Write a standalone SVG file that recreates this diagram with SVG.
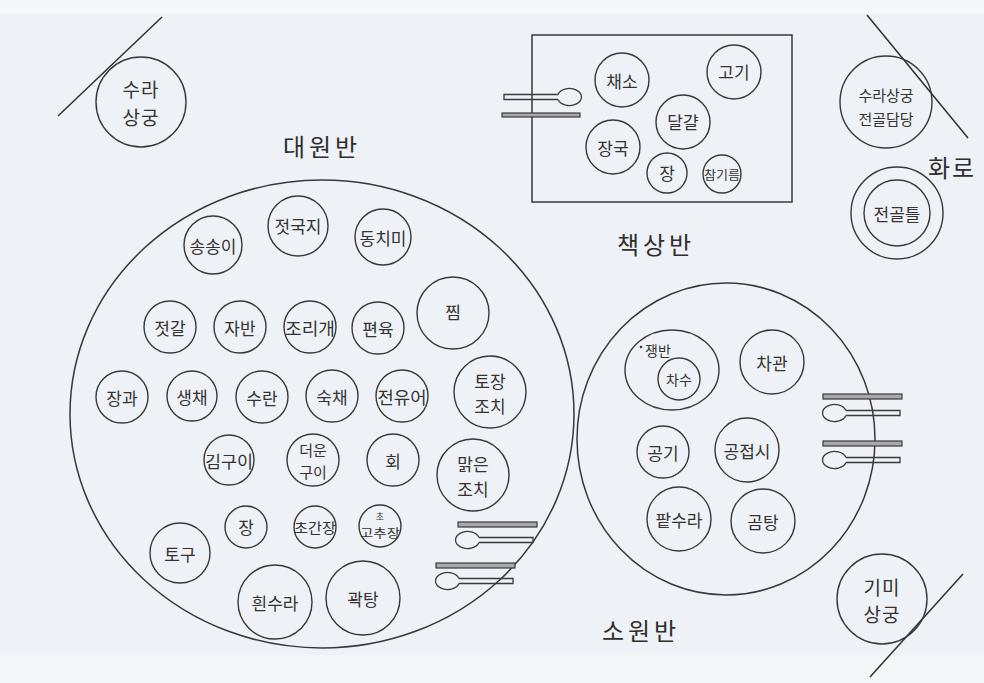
<svg xmlns="http://www.w3.org/2000/svg" width="984" height="683" viewBox="0 0 984 683">
<style>
.d{fill:none;stroke:#383838;stroke-width:1.4}
.big{fill:none;stroke:#383838;stroke-width:1.5}
.ln{stroke:#303030;stroke-width:1.5;fill:none}
.t{font-family:"Noto Sans CJK KR","Noto Sans",sans-serif;font-size:17px;fill:#333;text-anchor:middle;dominant-baseline:central}
.s{font-size:14px}
.xs{font-size:12px}
.lab{font-family:"Noto Sans CJK KR","Noto Sans",sans-serif;font-size:24px;fill:#2e2e2e;text-anchor:middle;letter-spacing:4px}
.chop{fill:#a9a9a9;stroke:#3a3a3a;stroke-width:1.2}
.sp{fill:none;stroke:#3a3a3a;stroke-width:1.3}
</style>
<defs>
<g id="spoonR">
<path class="sp" d="M12,-2.5 L66,-2.5 L66,2.5 L12,2.5 M12,-2.5 A12,8.5 0 1 0 12,2.5"/>
</g>
</defs>
<rect x="0" y="0" width="984" height="683" fill="#eef1f5"/>
<rect x="0" y="0" width="984" height="14" fill="#f6f7f9"/>
<rect x="0" y="655" width="984" height="28" fill="#f5f6f8"/>

<g id="sura-sanggung">
<line class="ln" x1="58" y1="116" x2="162" y2="17"/>
<circle class="d" cx="141" cy="102" r="45"/>
<text class="t" x="141" y="88" style="font-size:19px;letter-spacing:1px">수라</text>
<text class="t" x="141" y="116" style="font-size:19px;letter-spacing:1px">상궁</text>
</g>

<g id="daewonban">
<text class="lab" x="322" y="156">대원반</text>
<ellipse class="big" cx="322" cy="414" rx="252" ry="234"/>
<g id="d-songsongi"><circle class="d" cx="213" cy="245" r="29"/><text class="t" x="213" y="245">송송이</text></g>
<g id="d-jeotgukji"><circle class="d" cx="298" cy="226" r="30"/><text class="t" x="298" y="225">젓국지</text></g>
<g id="d-dongchimi"><circle class="d" cx="383" cy="237" r="28"/><text class="t" x="383" y="237">동치미</text></g>
<g id="d-jeotgal"><circle class="d" cx="170" cy="327" r="26"/><text class="t" x="170" y="327">젓갈</text></g>
<g id="d-jaban"><circle class="d" cx="240" cy="327" r="26"/><text class="t" x="240" y="327">자반</text></g>
<g id="d-jorigae"><circle class="d" cx="310" cy="327" r="26"/><text class="t" x="310" y="327" textLength="50" lengthAdjust="spacingAndGlyphs">조리개</text></g>
<g id="d-pyeonyuk"><circle class="d" cx="378" cy="328" r="26"/><text class="t" x="378" y="328">편육</text></g>
<g id="d-jjim"><circle class="d" cx="453" cy="313" r="36"/><text class="t" x="453" y="311">찜</text></g>
<g id="d-janggwa"><circle class="d" cx="122" cy="397" r="26"/><text class="t" x="122" y="397">장과</text></g>
<g id="d-saengchae"><circle class="d" cx="192" cy="396" r="25"/><text class="t" x="192" y="396">생채</text></g>
<g id="d-suran"><circle class="d" cx="262" cy="397" r="26"/><text class="t" x="262" y="397">수란</text></g>
<g id="d-sukchae"><circle class="d" cx="332" cy="396" r="26"/><text class="t" x="332" y="396">숙채</text></g>
<g id="d-jeonyueo"><circle class="d" cx="402" cy="396" r="26"/><text class="t" x="402" y="396" textLength="49" lengthAdjust="spacingAndGlyphs">전유어</text></g>
<g id="d-tojangjochi"><circle class="d" cx="490" cy="392" r="36"/><text class="t" x="490" y="380">토장</text><text class="t" x="490" y="405">조치</text></g>
<g id="d-gimgui"><circle class="d" cx="229" cy="460" r="25"/><text class="t" x="229" y="460" textLength="48" lengthAdjust="spacingAndGlyphs">김구이</text></g>
<g id="d-deoungui"><circle class="d" cx="313" cy="460" r="26"/><text class="t" x="313" y="449" style="font-size:15px">더운</text><text class="t" x="313" y="471" style="font-size:15px">구이</text></g>
<g id="d-hoe"><circle class="d" cx="393" cy="460" r="26"/><text class="t" x="393" y="460">회</text></g>
<g id="d-malgeunjochi"><circle class="d" cx="473" cy="475" r="36"/><text class="t" x="473" y="463">맑은</text><text class="t" x="473" y="488">조치</text></g>
<g id="d-jang"><circle class="d" cx="246" cy="527" r="21"/><text class="t" x="246" y="526">장</text></g>
<g id="d-choganjang"><circle class="d" cx="315" cy="527" r="21"/><text class="t s" x="315" y="527" textLength="42" lengthAdjust="spacingAndGlyphs">초간장</text></g>
<g id="d-chogochujang"><circle class="d" cx="380" cy="526" r="21"/><text class="t" x="380" y="516" style="font-size:9px">초</text><text class="t xs" x="380" y="532" textLength="40" lengthAdjust="spacingAndGlyphs">고추장</text></g>
<g id="d-togu"><circle class="d" cx="180" cy="553" r="30"/><text class="t" x="180" y="553">토구</text></g>
<g id="d-huinsura"><circle class="d" cx="275" cy="602" r="37"/><text class="t" x="275" y="602">흰수라</text></g>
<g id="d-gwaktang"><circle class="d" cx="363" cy="598" r="37"/><text class="t" x="363" y="598">곽탕</text></g>
<g id="d-utensils">
<rect class="chop" x="458" y="522" width="79" height="5"/>
<use href="#spoonR" x="467" y="540"/>
<rect class="chop" x="436" y="563" width="79" height="5"/>
<use href="#spoonR" x="447" y="581"/>
</g>
</g>

<g id="chaeksangban">
<rect class="big" x="532" y="35" width="260" height="167"/>
<g id="c-chaeso"><circle class="d" cx="622" cy="80" r="27"/><text class="t" x="622" y="80">채소</text></g>
<g id="c-gogi"><circle class="d" cx="734" cy="72" r="27"/><text class="t" x="734" y="71">고기</text></g>
<g id="c-dalgyal"><circle class="d" cx="683" cy="122" r="27"/><text class="t" x="683" y="121">달걀</text></g>
<g id="c-janggguk"><circle class="d" cx="613" cy="147" r="27"/><text class="t" x="613" y="147">장국</text></g>
<g id="c-jang"><circle class="d" cx="667" cy="173" r="20"/><text class="t" x="667" y="172">장</text></g>
<g id="c-chamgireum"><circle class="d" cx="722" cy="174" r="19"/><text class="t xs" x="722" y="174" textLength="36" lengthAdjust="spacingAndGlyphs">참기름</text></g>
<g id="c-utensils">
<use href="#spoonR" x="570" y="97" transform="translate(1140,0) scale(-1,1)"/>
<rect class="chop" x="502" y="113" width="78" height="4"/>
</g>
<text class="lab" x="656" y="254">책상반</text>
</g>

<g id="sura-jeongol">
<line class="ln" x1="867" y1="15" x2="968" y2="138"/>
<circle class="d" cx="886" cy="102" r="46"/>
<text class="t" x="886" y="94" style="font-size:15px">수라상궁</text>
<text class="t" x="886" y="118" style="font-size:15px">전골담당</text>
</g>

<g id="hwaro">
<text class="lab" x="952" y="177" style="letter-spacing:2px">화로</text>
<circle class="d" cx="897" cy="213" r="46"/>
<circle class="d" cx="897" cy="213" r="33"/>
<text class="t" x="897" y="213">전골틀</text>
</g>

<g id="sowonban">
<ellipse class="big" cx="726" cy="439" rx="149" ry="156"/>
<g id="s-jaengban"><ellipse class="d" cx="672" cy="370" rx="47" ry="40"/><circle cx="641" cy="347" r="1.3" fill="#333"/><text class="t s" x="658" y="350">쟁반</text></g>
<g id="s-chasu"><circle class="d" cx="679" cy="379" r="21"/><text class="t s" x="679" y="379">차수</text></g>
<g id="s-chagwan"><circle class="d" cx="772" cy="362" r="32"/><text class="t" x="772" y="362">차관</text></g>
<g id="s-gonggi"><circle class="d" cx="663" cy="452" r="26"/><text class="t" x="663" y="452">공기</text></g>
<g id="s-gongjeopsi"><circle class="d" cx="747" cy="450" r="32"/><text class="t" x="747" y="450">공접시</text></g>
<g id="s-patsura"><circle class="d" cx="679" cy="519" r="32"/><text class="t" x="679" y="519">팥수라</text></g>
<g id="s-gomtang"><circle class="d" cx="763" cy="521" r="32"/><text class="t" x="763" y="521">곰탕</text></g>
<g id="s-utensils">
<rect class="chop" x="823" y="394" width="79" height="5"/>
<use href="#spoonR" x="834" y="413"/>
<rect class="chop" x="823" y="441" width="79" height="5"/>
<use href="#spoonR" x="834" y="460"/>
</g>
<text class="lab" x="641" y="640">소원반</text>
</g>

<g id="gimi-sanggung">
<line class="ln" x1="870" y1="677" x2="963" y2="574"/>
<circle class="d" cx="882" cy="599" r="45"/>
<text class="t" x="882" y="586" style="font-size:19px;letter-spacing:1px">기미</text>
<text class="t" x="882" y="613" style="font-size:19px;letter-spacing:1px">상궁</text>
</g>
</svg>
